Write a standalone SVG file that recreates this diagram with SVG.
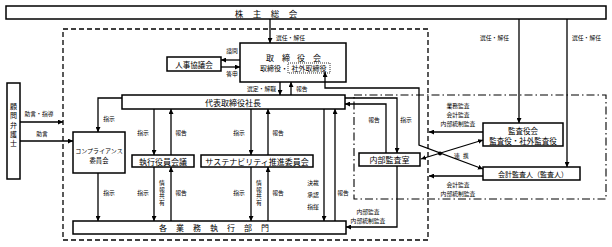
<svg xmlns="http://www.w3.org/2000/svg" width="612" height="247" viewBox="0 0 612 247">
<style>
text{font-family:"Noto Sans CJK JP","Noto Sans",sans-serif;fill:#000}
.b{fill:#fff;stroke:#000;stroke-width:1.5}
.t{font-size:8px;text-anchor:middle;dominant-baseline:central}
.s{font-size:7px;text-anchor:middle;dominant-baseline:central}
.l{font-size:5.8px;text-anchor:middle;dominant-baseline:central}
.v{font-size:5.8px;text-anchor:middle;dominant-baseline:central;writing-mode:vertical-rl;letter-spacing:0.7px}
.c path{fill:none;stroke:#000;stroke-width:1.3}
.e{marker-end:url(#a)}
.se{marker-start:url(#a);marker-end:url(#a)}
</style>
<defs>
<marker id="a" viewBox="0 0 10 10" refX="10" refY="5" markerWidth="5" markerHeight="5" markerUnits="userSpaceOnUse" orient="auto-start-reverse">
<path d="M0,0L10,5L0,10z" fill="#000"/>
</marker>
</defs>
<rect x="63" y="29" width="365" height="211" fill="none" stroke="#000" stroke-width="1.3" stroke-dasharray="5,3"/>
<rect x="354" y="95" width="252" height="104" fill="none" stroke="#000" stroke-width="1.1" stroke-dasharray="8,3,1.5,3"/>
<g id="shareholders"><rect class="b" x="6" y="6" width="600" height="13"/><text class="t" style="font-size:8.5px" x="239 257 275 293" y="13">株主総会</text></g>
<g id="board"><rect class="b" x="240" y="43" width="106" height="39"/><text class="t" x="270 286 301 317" y="57">取締役会</text><text class="s" style="text-anchor:end" x="288" y="68">取締役・</text><rect x="288" y="63" width="42" height="10" fill="none" stroke="#000" stroke-width="0.8" stroke-dasharray="1,1"/><text class="s" x="309" y="68">社外取締役</text></g>
<g id="hr"><rect class="b" x="167" y="57" width="54" height="14"/><text class="s" style="font-size:7.5px" x="194" y="64">人事協議会</text></g>
<g id="president"><rect class="b" x="122" y="95" width="223" height="14"/><text class="t" x="233" y="102">代表取締役社長</text></g>
<g id="lawyer"><rect class="b" x="7" y="83" width="13" height="96"/><text class="s" x="13.5" y="106">顧</text><text class="s" x="13.5" y="115.3">問</text><text class="s" x="13.5" y="124.6">弁</text><text class="s" x="13.5" y="134">護</text><text class="s" x="13.5" y="143.3">士</text></g>
<g id="compliance"><rect class="b" x="73" y="132" width="52" height="41"/><text class="l" style="font-size:6px" x="99" y="150">コンプライアンス</text><text class="l" style="font-size:6.3px" x="99" y="160">委員会</text></g>
<g id="exec"><rect class="b" x="132" y="155" width="62" height="12"/><text class="t" x="163" y="161">執行役員会議</text></g>
<g id="sustain"><rect class="b" x="201" y="155" width="112" height="12"/><text class="t" x="257" y="161">サステナビリティ推進委員会</text></g>
<g id="audit-office"><rect class="b" x="359" y="153" width="61" height="13"/><text class="t" x="389.5" y="159.5">内部監査室</text></g>
<g id="auditors"><rect class="b" x="483" y="123" width="80" height="23"/><text class="s" style="font-size:7.5px" x="523" y="130">監査役会</text><text class="s" style="font-size:7.5px" x="523" y="140">監査役・社外監査役</text></g>
<g id="accountant"><rect class="b" x="483" y="167" width="97" height="13"/><text class="s" x="533" y="173.5">会計監査人（監査人）</text></g>
<g id="depts"><rect class="b" x="73" y="221" width="273" height="13"/><text class="t" x="163 180 197 214 231 248 265" y="227.5">各業務執行部門</text></g>
<g id="connectors" class="c">
<path class="e" d="M270,19V43"/>
<path class="e" d="M519,19V123"/>
<path class="e" d="M567,19V167"/>
<path class="e" d="M240,60H221"/>
<path class="e" d="M221,67H240"/>
<path class="e" d="M280,82V95"/>
<path class="e" d="M291,95V82"/>
<path class="se" d="M483,169L419,145V88H325V72"/>
<path class="se" d="M421,159L483,140"/>
<path class="e" d="M483,132H429"/>
<path class="e" d="M483,176H429"/>
<path class="e" d="M345,98H397V153"/>
<path class="e" d="M386,153V104H345"/>
<path class="e" d="M397,166V227H346"/>
<path class="e" d="M122,98H98V132"/>
<path class="e" d="M98,173V221"/>
<path class="e" d="M20,122H63"/>
<path class="e" d="M20,141H73"/>
<path class="e" d="M154,109V155"/>
<path class="e" d="M171,155V109"/>
<path class="e" d="M251,109V155"/>
<path class="e" d="M268,155V109"/>
<path class="e" d="M154,167V221"/>
<path class="e" d="M171,221V167"/>
<path class="e" d="M251,167V221"/>
<path class="e" d="M268,221V167"/>
<path class="e" d="M324,109V221"/>
<path class="e" d="M335,221V109"/>
<circle cx="440" cy="153.5" r="2" fill="#000"/>
</g>
<g id="labels">
<text class="l" style="text-anchor:start" x="276" y="37.5">選任・解任</text>
<text class="l" style="text-anchor:start" x="480" y="37.5">選任・解任</text>
<text class="l" style="text-anchor:start" x="572" y="37.5">選任・解任</text>
<text class="l" x="232" y="50">諮問</text>
<text class="l" x="232" y="73">答申</text>
<text class="l" style="text-anchor:end" x="276" y="88">選定・解職</text>
<text class="l" style="text-anchor:start" x="296" y="88">報告</text>
<text class="l" x="374" y="119">報告</text>
<text class="l" x="406" y="119">指示</text>
<text class="l" x="458" y="105">業務監査</text>
<text class="l" x="458" y="114">会計監査</text>
<text class="l" x="458" y="123">内部統制監査</text>
<text class="l" x="457 466" y="155">連携</text>
<text class="l" x="458" y="184">会計監査</text>
<text class="l" x="458" y="193">内部統制監査</text>
<text class="l" x="368" y="211">内部監査</text>
<text class="l" x="368" y="220">内部統制監査</text>
<text class="l" x="343" y="192">報告</text>
<text class="l" x="313" y="182">決裁</text>
<text class="l" x="313" y="194">承認</text>
<text class="l" x="313" y="206">指揮</text>
<text class="l" x="109" y="118">指示</text>
<text class="l" x="109" y="192">指示</text>
<text class="l" x="39" y="113">助言・指導</text>
<text class="l" x="42" y="133">助言</text>
<text class="l" x="143" y="132">指示</text>
<text class="l" x="181" y="132">報告</text>
<text class="l" x="239" y="132">指示</text>
<text class="l" x="278" y="132">報告</text>
<text class="l" x="143" y="192">指示</text>
<text class="l" x="181" y="192">報告</text>
<text class="l" x="239" y="192">指示</text>
<text class="l" x="278" y="192">報告</text>
<text class="v" x="162" y="193">情報共有</text>
<text class="v" x="259" y="193">情報共有</text>
</g>
</svg>
